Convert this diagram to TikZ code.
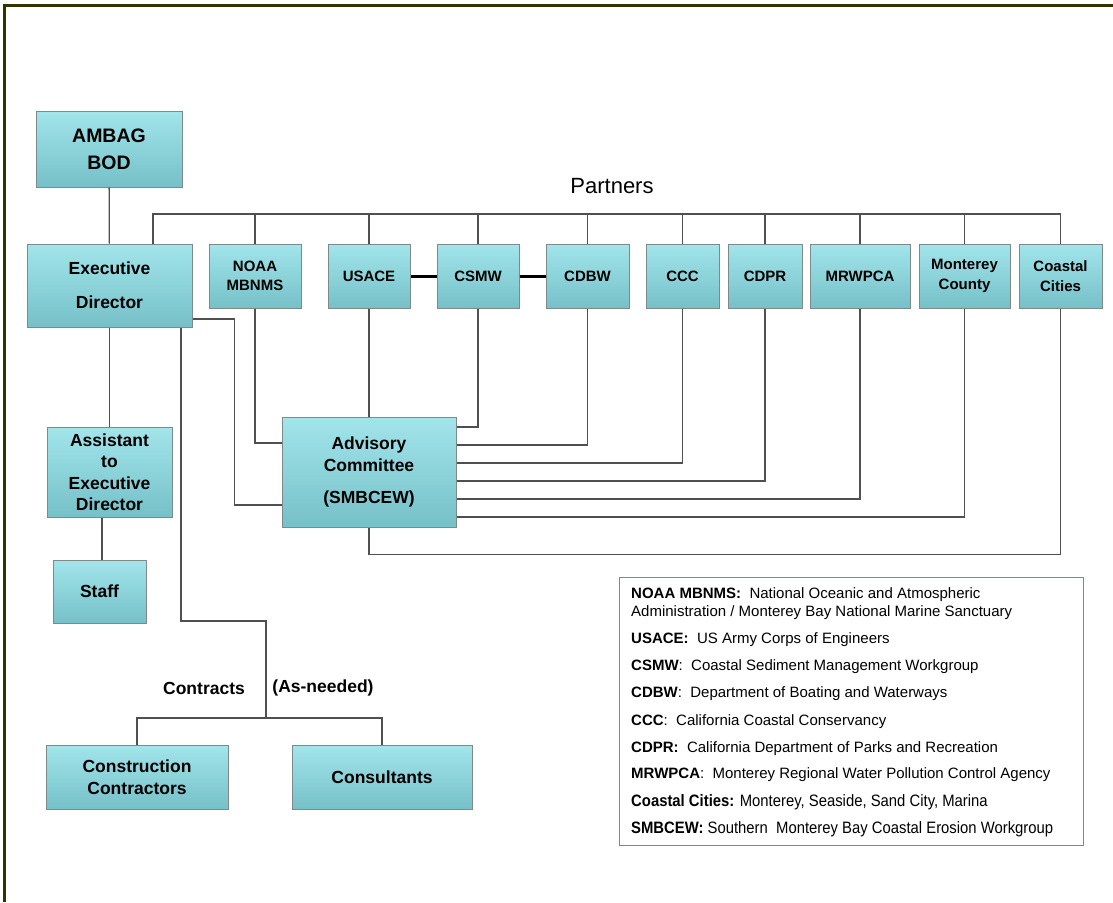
\documentclass[tikz,border=0pt]{standalone}
\usepackage{fontspec}
\setmainfont{Liberation Sans}
\usepackage{graphicx}
\usetikzlibrary{positioning,calc}

\definecolor{boxtop}{RGB}{162,229,235}
\definecolor{boxbot}{RGB}{118,192,200}
\definecolor{boxline}{RGB}{125,138,140}
\definecolor{linegray}{RGB}{80,80,80}
\definecolor{frameolive}{RGB}{51,51,0}

\begin{document}
\begin{tikzpicture}[x=1pt, y=-1pt,
        orgbox/.style={rectangle, draw=boxline, line width=1pt, top color=boxtop, bottom color=boxbot, align=center, inner sep=0pt, font=\fontsize{17.5}{21.5}\selectfont\bfseries},
        partnerbox/.style={orgbox, minimum height=64pt, font=\fontsize{15}{19.5}\selectfont\bfseries},
        link/.style={draw=linegray, line width=1.3pt},
        tie/.style={draw=black, line width=3pt},
        legline/.style={anchor=west, inner sep=0pt, font=\fontsize{15}{17}\selectfont}
    ]
    \useasboundingbox (0,0) rectangle (1113,902);

    % Frame
    \draw[frameolive, line width=3pt] (4,902) -- (4,5) -- (1113,5);

    % Management
    \node[orgbox, minimum width=146pt, minimum height=76pt, font=\fontsize{19.5}{27}\selectfont\bfseries] (ambag) at (109,149) {AMBAG\\BOD};
    \node[orgbox, minimum width=165pt, minimum height=83pt, font=\fontsize{17.5}{34}\selectfont\bfseries] (exec) at (109.5,285.5) {Executive\\Director};
    \node[orgbox, minimum width=125pt, minimum height=90pt] (assistant) at (109.5,472) {Assistant\\to\\Executive\\Director};
    \node[orgbox, minimum width=93pt, minimum height=63pt] (staff) at (99.5,591.5) {Staff};

    % Partners row
    \node[font=\fontsize{22}{26}\selectfont] (partners) at (612,186) {Partners};
    \node[partnerbox, minimum width=92pt] (noaa) at (255,276) {NOAA\\MBNMS};
    \node[partnerbox, minimum width=82pt] (usace) at (369,276) {USACE};
    \node[partnerbox, minimum width=82pt] (csmw) at (478,276) {CSMW};
    \node[partnerbox, minimum width=83pt] (cdbw) at (587.5,276) {CDBW};
    \node[partnerbox, minimum width=73pt] (ccc) at (682.5,276) {CCC};
    \node[partnerbox, minimum width=74pt] (cdpr) at (765,276) {CDPR};
    \node[partnerbox, minimum width=100pt] (mrwpca) at (860,276) {MRWPCA};
    \node[partnerbox, minimum width=91pt] (monterey) at (964.5,276) {Monterey\\County};
    \node[partnerbox, minimum width=83pt] (coastal) at (1060.5,276) {Coastal\\Cities};

    % Committee
    \node[orgbox, minimum width=174pt, minimum height=110pt] (advisory) at (369,472) {Advisory\\Committee\\[11pt](SMBCEW)};

    % Contracts
    \node[orgbox, minimum width=182pt, minimum height=64pt] (construction) at (137,777) {Construction\\Contractors};
    \node[orgbox, minimum width=180pt, minimum height=64pt] (consultants) at (382,777) {Consultants};
    \node[font=\fontsize{17.5}{21}\selectfont\bfseries] (contracts) at (204,688) {Contracts};
    \node[font=\fontsize{17.5}{21}\selectfont\bfseries] (asneeded) at (323,688) {(As-needed)};
    \coordinate (split) at (266,718);
    \coordinate (bus) at (0,214);

    % Lines
    \draw[link] (ambag) -- (exec);
    \draw[link] (exec) -- (assistant);
    \draw[link] ([xshift=2.5pt]staff.north) -- ([xshift=2.5pt]staff.north |- assistant.south);
    \draw[link] ([xshift=43.5pt]exec.north) |- (bus -| coastal.north) -- (coastal.north);
    \foreach \n in {noaa,usace,csmw,cdbw,ccc,cdpr,mrwpca,monterey}
        \draw[link] (\n.north) -- (\n.north |- bus);
    \draw[tie] (usace) -- (csmw);
    \draw[tie] (csmw) -- (cdbw);
    \draw[link] (noaa.south) |- ([yshift=29pt]advisory.west);
    \draw[link] (usace.south) -- (advisory.north);
    \foreach \n/\s in {csmw/45,cdbw/27,ccc/9,cdpr/-9,mrwpca/-27,monterey/-45}
        \draw[link] (\n.south) |- ([yshift=\s pt]advisory.east);
    \draw[link] (coastal.south) |- ([yshift=-27pt]advisory.south) -- (advisory.south);
    \draw[link] ([yshift=-33.5pt]exec.east) -- ++(42,0) |- ([yshift=-33pt]advisory.west);
    \draw[link] ([xshift=71.5pt]exec.south) |- ($(split)+(0,-97)$) -- (split);
    \draw[link] (construction.north) |- (split) -| (consultants.north);

    % Legend
    \node[draw=boxline, line width=1pt, fill=white, minimum width=464pt, minimum height=268pt, inner sep=0pt] (legend) at (851,711) {};
    \node[legline] (leg1) at (631,595) {\textbf{NOAA MBNMS:}\ \ National Oceanic and Atmospheric};
    \node[legline] (leg2) at (631,613) {Administration / Monterey Bay National Marine Sanctuary};
    \node[legline] (leg3) at (631,640) {\textbf{USACE:}\ \ US Army Corps of Engineers};
    \node[legline] (leg4) at (631,667) {\textbf{CSMW}:\ \ Coastal Sediment Management Workgroup};
    \node[legline] (leg5) at (631,694) {\textbf{CDBW}:\ \ Department of Boating and Waterways};
    \node[legline] (leg6) at (631,722) {\textbf{CCC}:\ \ California Coastal Conservancy};
    \node[legline] (leg7) at (631,749) {\textbf{CDPR:}\ \ California Department of Parks and Recreation};
    \node[legline] (leg8) at (631,775) {\textbf{MRWPCA}:\ \ Monterey Regional Water Pollution Control Agency};
    \node[legline] (leg9) at (631,802) {\scalebox{0.9}[1]{\fontsize{16.5}{18}\selectfont\textbf{Coastal Cities:} Monterey, Seaside, Sand City, Marina}};
    \node[legline] (leg10) at (631,829) {\scalebox{0.9}[1]{\fontsize{16.5}{18}\selectfont\textbf{SMBCEW:} Southern\ \ Monterey Bay Coastal Erosion Workgroup}};

\end{tikzpicture}
\end{document}
